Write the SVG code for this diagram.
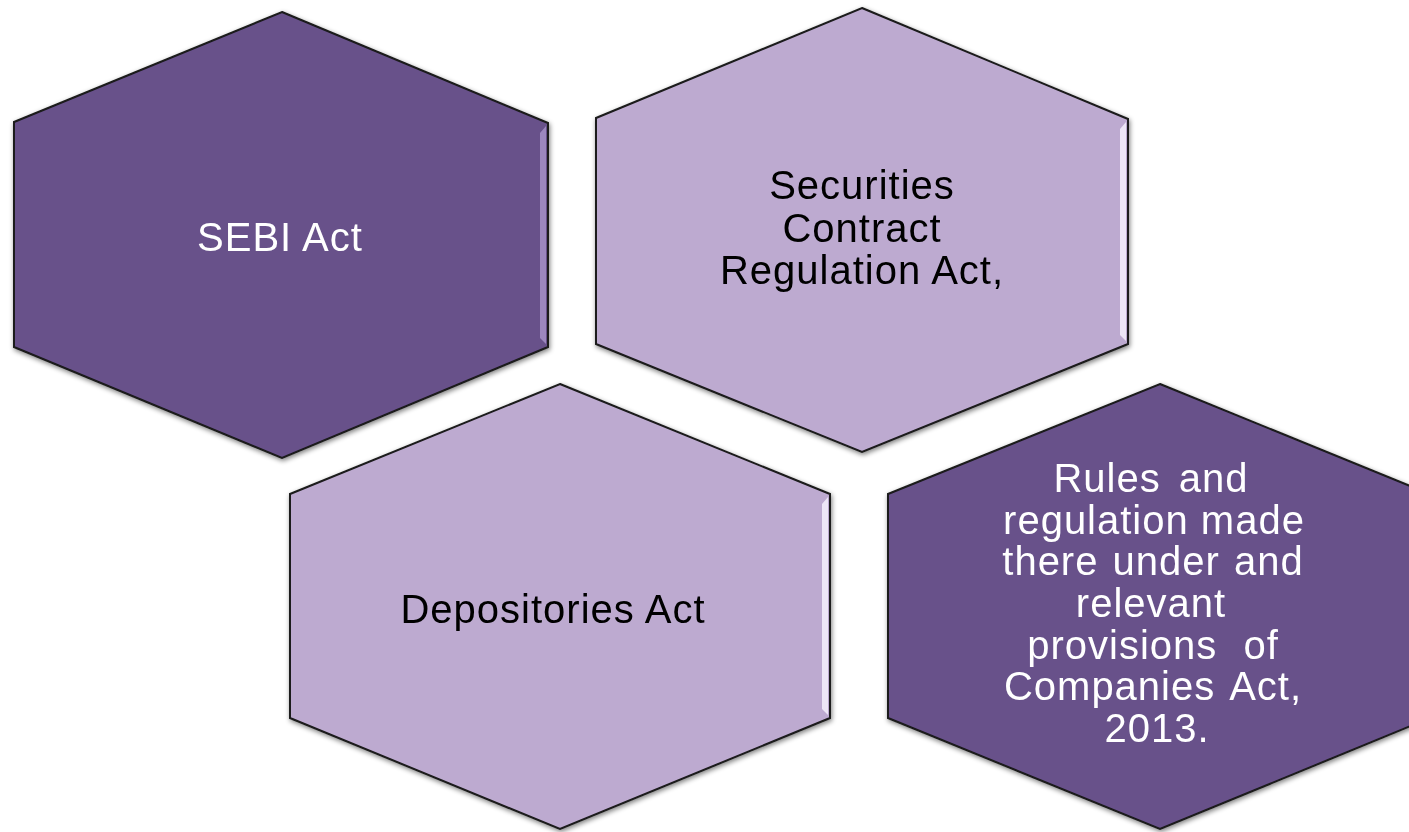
<svg xmlns="http://www.w3.org/2000/svg" width="1409" height="832" viewBox="0 0 1409 832">
<style>
.hex{stroke:#1a1a1a;stroke-width:2;stroke-linejoin:miter}
.dark{fill:#67518A}
.light{fill:#BDAAD0}
.t{font-family:"Liberation Sans",Arial,sans-serif;font-size:40px;text-anchor:middle;letter-spacing:1px}
.tw{fill:#ffffff}
.tb{fill:#000000}
.hl-d{fill:#9C87BE}
.hl-l{fill:#EDE6F6}
</style>
<defs>
<filter id="sh" x="-10%" y="-10%" width="120%" height="120%">
<feGaussianBlur in="SourceAlpha" stdDeviation="2.5"/>
<feOffset dx="1" dy="2" result="b"/>
<feComponentTransfer><feFuncA type="linear" slope="0.5"/></feComponentTransfer>
<feMerge><feMergeNode/><feMergeNode in="SourceGraphic"/></feMerge>
</filter>
</defs>
<rect width="1409" height="832" fill="#ffffff"/>
<g id="connectors"></g>
<g id="node-sebi" filter="url(#sh)">
<polygon class="hex dark" points="282,12 548,123 548,347 282,458 14,347 14,122"/>
<polygon class="hl-d" points="546,126 546,344 540,338 540,133"/>
<text class="t tw" x="280" y="251">SEBI Act</text>
</g>
<g id="node-scra" filter="url(#sh)">
<polygon class="hex light" points="862,8 1128,119 1128,344 862,452 596,344 596,118"/>
<polygon class="hl-l" points="1126,122 1126,341 1120,335 1120,129"/>
<text class="t tb" x="862" y="199">Securities</text>
<text class="t tb" x="862" y="242">Contract</text>
<text class="t tb" x="862" y="284">Regulation Act,</text>
</g>
<g id="node-depositories" filter="url(#sh)">
<polygon class="hex light" points="560,384 830,494 830,718 560,829 290,718 290,494"/>
<polygon class="hl-l" points="828,497 828,715 822,709 822,504"/>
<text class="t tb" x="553" y="623">Depositories Act</text>
</g>
<g id="node-rules" filter="url(#sh)">
<polygon class="hex dark" points="1160,384 1430,494 1430,718 1160,829 888,718 888,494"/>
<text class="t tw" x="1151" y="492" word-spacing="6">Rules and</text>
<text class="t tw" x="1154" y="534">regulation made</text>
<text class="t tw" x="1153" y="575" word-spacing="2">there under and</text>
<text class="t tw" x="1151" y="617">relevant</text>
<text class="t tw" x="1153" y="659" word-spacing="14">provisions of</text>
<text class="t tw" x="1153" y="700" word-spacing="4">Companies Act,</text>
<text class="t tw" x="1157" y="742">2013.</text>
</g>
</svg>
